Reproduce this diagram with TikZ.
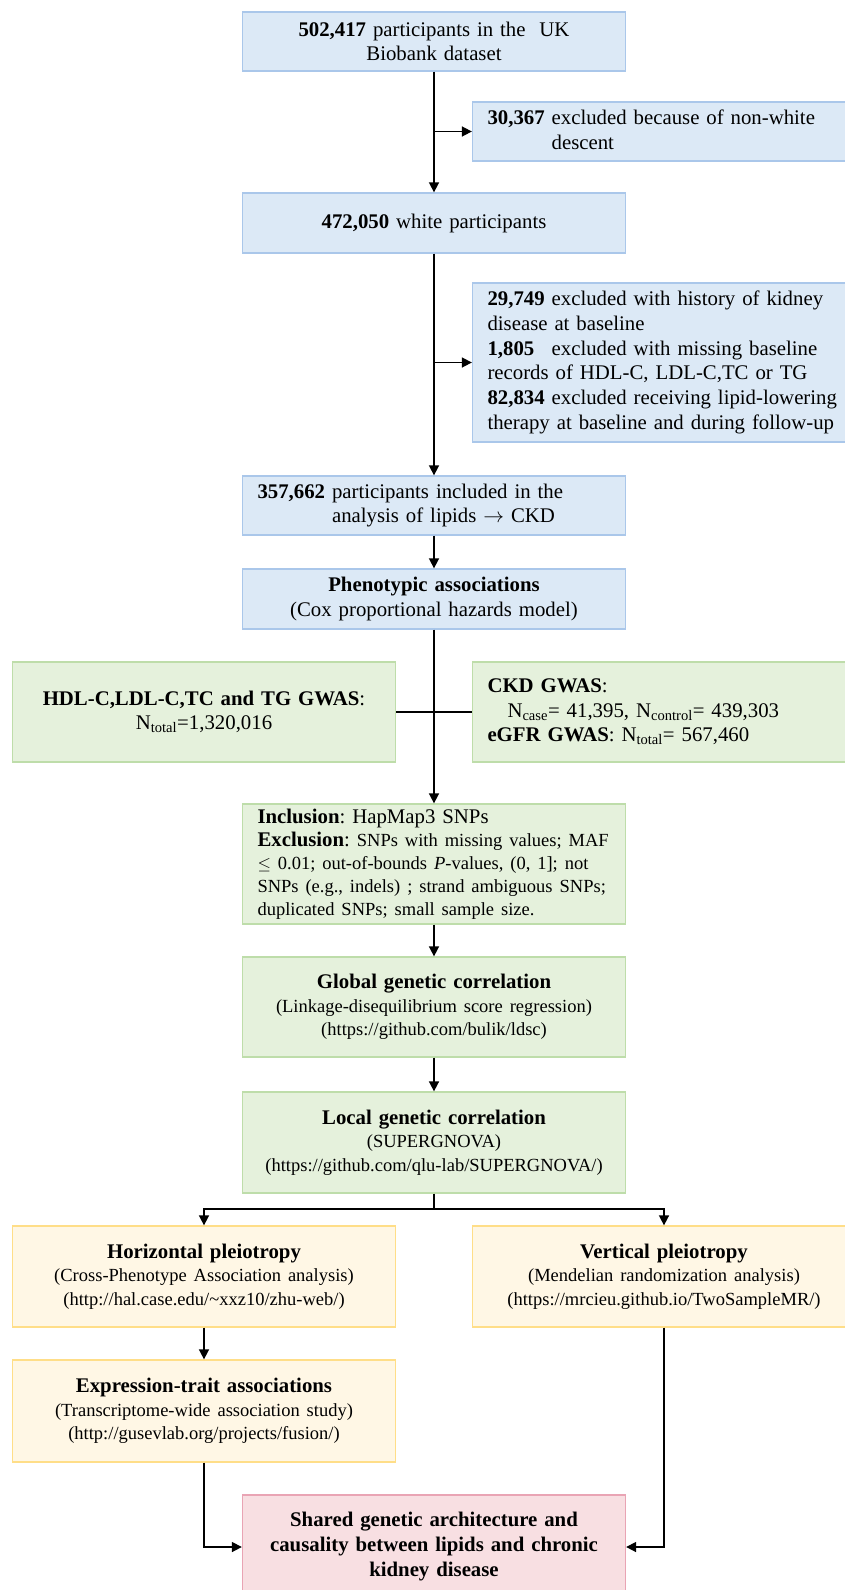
\documentclass[tikz,border=0pt]{standalone}
\usepackage{fontspec}
\setmainfont{Liberation Serif}
\usepackage{amsmath,amssymb}
\usepackage{tikz}
\usetikzlibrary{arrows.meta,positioning,calc}
\usepackage{xcolor}
\definecolor{fillblue}{HTML}{DCE9F6}
\definecolor{lineblue}{HTML}{AAC7EA}
\definecolor{fillgreen}{HTML}{E5F1DC}
\definecolor{linegreen}{HTML}{BEDDAA}
\definecolor{fillyellow}{HTML}{FFF7E5}
\definecolor{lineyellow}{HTML}{FFDE88}
\definecolor{fillpink}{HTML}{F8DFE2}
\definecolor{linepink}{HTML}{E9A4B4}
\newcommand{\subtxt}{\fontsize{18.5}{23.5}\selectfont}
\frenchspacing

\begin{document}
\begin{tikzpicture}[x=1pt, y=-1pt,
    every node/.style={font=\fontsize{20.8}{24.5}\selectfont},
    panel/.style={draw, line width=1.3pt, minimum height=#1, inner ysep=0pt,
        inner xsep=8pt, text width=367pt, align=center},
    leftpanel/.style={panel=#1, inner xsep=15pt, text width=353pt, align=left},
    blue/.style={fill=fillblue, draw=lineblue},
    green/.style={fill=fillgreen, draw=linegreen},
    yellow/.style={fill=fillyellow, draw=lineyellow},
    pink/.style={fill=fillpink, draw=linepink},
    arr/.style={line width=1.6pt, -{Triangle[length=10pt,width=10pt]}},
    link/.style={line width=1.6pt}]
    \useasboundingbox (0,0) rectangle (845,1590);

    % Cohort selection
    \node[panel=59, blue] (cohort) at (434,41.5)
        {\textbf{502,417} participants in the\ \ UK\\Biobank dataset};
    \node[leftpanel=59, blue] (exclA) at (664,131.5)
        {\textbf{30,367} excluded because of non-white\\
         \phantom{\textbf{30,367} }descent};
    \node[panel=60, blue] (white) at (434,223)
        {\textbf{472,050} white participants};
    \node[leftpanel=159, blue, font=\fontsize{20.8}{24.7}\selectfont] (exclB) at (664,362.5)
        {\textbf{29,749} excluded with history of kidney\\
         disease at baseline\\
         \makebox[0pt][l]{\textbf{1,805}}\phantom{\textbf{29,749} }excluded with missing baseline\\
         records of HDL-C, LDL-C,TC or TG\\
         \textbf{82,834} excluded receiving lipid-lowering\\
         therapy at baseline and during follow-up};
    \node[leftpanel=59, blue] (included) at (434,505.5)
        {\textbf{357,662} participants included in the\\
         \phantom{\textbf{357,662} }analysis of lipids $\rightarrow$ CKD};
    \node[panel=60, blue] (pheno) at (434,599)
        {\textbf{Phenotypic associations}\\(Cox proportional hazards model)};

    % GWAS summary statistics
    \node[panel=100, green] (lipidgwas) at (204,712)
        {\textbf{HDL-C,LDL-C,TC and TG GWAS}:\\N\textsubscript{total}=1,320,016};
    \node[leftpanel=100, green] (kidneygwas) at (664,712)
        {\textbf{CKD GWAS}:\\
         \hspace*{20pt}N\textsubscript{case}= 41,395, N\textsubscript{control}= 439,303\\
         \textbf{eGFR GWAS}: N\textsubscript{total}= 567,460};
    \node[leftpanel=120, green, font=\fontsize{20.8}{23}\selectfont] (qc) at (434,864)
        {\textbf{Inclusion}: HapMap3 SNPs\\
         \mbox{\textbf{Exclusion}: {\subtxt SNPs with missing values; MAF}}\\
         {\subtxt $\leq$ 0.01; out-of-bounds \textit{P}-values, (0, 1]; not}\\
         {\subtxt SNPs (e.g., indels) ; strand ambiguous SNPs;}\\
         {\subtxt duplicated SNPs; small sample size.}};

    % Genetic correlation
    \node[panel=100, green, font=\fontsize{20.8}{23.5}\selectfont] (globalrg) at (434,1007)
        {\textbf{Global genetic correlation}\\
         {\subtxt (Linkage-disequilibrium score regression)}\\
         {\subtxt (https://github.com/bulik/ldsc)}};
    \node[panel=101, green, font=\fontsize{20.8}{23.5}\selectfont] (localrg) at (434,1142.5)
        {\textbf{Local genetic correlation}\\
         {\subtxt (SUPERGNOVA)}\\
         {\subtxt (https://github.com/qlu-lab/SUPERGNOVA/)}};

    % Pleiotropy
    \node[panel=101, yellow, font=\fontsize{20.8}{23.5}\selectfont] (horiz) at (204,1276.5)
        {\textbf{Horizontal pleiotropy}\\
         {\subtxt (Cross-Phenotype Association analysis)}\\
         {\subtxt (http://hal.case.edu/\textasciitilde xxz10/zhu-web/)}};
    \node[panel=101, yellow, font=\fontsize{20.8}{23.5}\selectfont] (vert) at (664,1276.5)
        {\textbf{Vertical pleiotropy}\\
         {\subtxt (Mendelian randomization analysis)}\\
         {\subtxt (https://mrcieu.github.io/TwoSampleMR/)}};
    \node[panel=102, yellow, font=\fontsize{20.8}{23.5}\selectfont] (twas) at (204,1411)
        {\textbf{Expression-trait associations}\\
         {\subtxt (Transcriptome-wide association study)}\\
         {\subtxt (http://gusevlab.org/projects/fusion/)}};
    \node[panel=104, pink, font=\fontsize{20.8}{25}\selectfont] (shared) at (434,1547)
        {\textbf{Shared genetic architecture and}\\
         \textbf{causality between lipids and chronic}\\
         \textbf{kidney disease}};

    % Connectors
    \draw[arr] (cohort) -- (white);
    \draw[arr] (cohort.south |- exclA.west) -- (exclA.west);
    \draw[arr] (white) -- (included);
    \draw[arr] (white.south |- exclB.west) -- (exclB.west);
    \draw[arr] (included) -- (pheno);
    \draw[link] (lipidgwas.east) -- (kidneygwas.west);
    \draw[arr] (pheno) -- (qc);
    \draw[arr] (qc) -- (globalrg);
    \draw[arr] (globalrg) -- (localrg);
    \coordinate (split) at (434,1209);
    \draw[arr] (localrg.south) -- (split) -| (horiz.north);
    \draw[arr] (split) -| (vert.north);
    \draw[arr] (horiz) -- (twas);
    \draw[arr] (twas.south) |- (shared.west);
    \draw[arr] (vert.south) |- (shared.east);
\end{tikzpicture}
\end{document}
